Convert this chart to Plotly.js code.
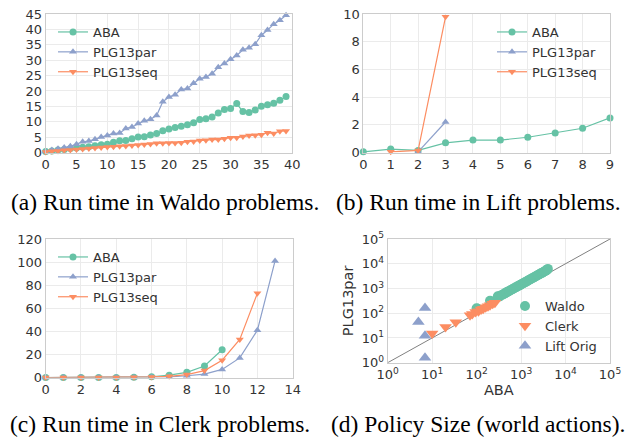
<!DOCTYPE html>
<html>
<head>
<meta charset="utf-8">
<script src="https://cdn.plot.ly/plotly-3.0.1.min.js"></script>
<style>html,body{margin:0;padding:0;background:#fff;}#chart{width:629px;height:438px;}</style>
</head>
<body>
<div id="chart"></div>
<script>
// ---- (a) Waldo run times ----
const waldoX = [0,1,2,3,4,5,6,7,8,9,10,11,12,13,14,15,16,17,18,19,20,21,22,23,24,25,26,27,28,29,30,31,32,33,34,35,36,37,38,39];
const waldoABA = [0.3,0.5,0.8,1.0,1.3,1.5,1.7,1.9,2.2,2.5,2.7,3.3,3.8,3.9,4.5,5.0,5.1,5.7,6.2,7.1,7.6,8.1,8.5,9.0,9.7,10.7,11.0,11.5,12.8,14.0,14.3,15.9,13.3,13.0,13.8,15.0,15.5,16.0,17.0,18.2];
const waldoPar = [0.3,0.8,1.2,1.6,2.0,2.7,3.5,3.7,4.3,5.0,5.5,6.2,6.3,7.8,8.3,9.4,10.3,10.8,12.0,16.5,18.0,18.8,20.5,20.8,22.5,24.0,24.5,25.6,27.7,28.9,30.3,31.5,33.4,34.0,35.2,38.1,39.8,41.7,43.0,44.6];
const waldoSeq = [0.2,0.4,0.5,0.7,0.8,1.0,1.1,1.3,1.5,1.6,1.8,1.9,2.0,2.1,2.3,2.4,2.6,2.8,3.0,3.0,3.1,3.1,3.2,3.5,3.6,3.9,4.0,4.2,4.2,4.5,4.8,4.8,5.2,5.5,5.6,5.8,6.4,6.2,6.9,7.0];

// ---- (b) Lift run times ----
const liftX_ABA = [0,1,2,3,4,5,6,7,8,9];
const liftABA = [0.05,0.25,0.15,0.7,0.9,0.9,1.1,1.4,1.75,2.5];
const liftX_Par = [2,3];
const liftPar = [0.05,2.2];
const liftX_Seq = [1,2,3];
const liftSeq = [0.05,0.15,9.8];

// ---- (c) Clerk run times ----
const clerkX_ABA = [0,1,2,3,4,5,6,7,8,9,10];
const clerkABA = [0,0,0,0,0,0.2,0.6,2,4.5,10,24];
const clerkX_Par = [0,1,2,3,4,5,6,7,8,9,10,11,12,13];
const clerkPar = [0,0,0,0,0,0,0.2,0.5,1.5,3,7,17,41,101];
const clerkX_Seq = [0,1,2,3,4,5,6,7,8,9,10,11,12];
const clerkSeq = [0,0,0,0,0,0.2,0.5,1,2.5,6,15,33,73];

// ---- (d) Policy size ----
const waldoSizeABA = [100,105,200,210,300,320,350,380,420,460,500,540,590,640,700,760,820,890,960,1040,1120,1210,1300,1400,1510,1620,1740,1870,2000,2150,2300,2460,2630,2810,3000,3200,3400,3600,3800,4000];
const waldoSizePar = [160,150,320,300,480,470,520,560,620,680,740,800,870,940,1030,1110,1200,1300,1400,1520,1630,1760,1890,2040,2200,2360,2530,2720,2910,3130,3350,3580,3820,4080,4360,4650,4940,5230,5550,6200];
const clerkSizeABA = [10,20,34,71,80,95,110,126,140,160,180,200,230,258];
const clerkSizePar = [15,28,43,83,92,112,120,140,150,174,190,210,240,263];
const liftSizeABA = [6.9,4.9,6.9,6.9];
const liftSizePar = [163,44,12.4,1.6];
const diagX = [1,100000];
const diagY = [1,100000];

// ---- tick labels ----
const ticksA = [0,5,10,15,20,25,30,35,40,45];
const ticksAx = [0,5,10,15,20,25,30,35,40];
const ticksBy = [0,2,4,6,8,10];
const ticksBx = [0,1,2,3,4,5,6,7,8,9];
const ticksCy = [0,20,40,60,80,100,120];
const ticksCx = [0,2,4,6,8,10,12,14];
const logVals = [1,10,100,1000,10000,100000];
const logText = ['10<sup>0</sup>','10<sup>1</sup>','10<sup>2</sup>','10<sup>3</sup>','10<sup>4</sup>','10<sup>5</sup>'];
const captions = ['(a) Run time in Waldo problems.','(b) Run time in Lift problems.','(c) Run time in Clerk problems.','(d) Policy Size (world actions).'];

const GREEN = '#66c2a5', BLUE = '#8da0cb', ORANGE = '#fc8d62';
const W = 629, H = 438;
const px = v => v / W;
const py = v => 1 - v / H;

function line(x, y, name, color, sym, xa, ya, leg) {
  return {x: x, y: y, name: name, type: 'scatter', mode: 'lines+markers',
    line: {color: color, width: 1.2}, marker: {color: color, symbol: sym, size: 7},
    xaxis: xa, yaxis: ya, legend: leg, cliponaxis: false};
}

const traces = [
  line(waldoX, waldoABA, 'ABA', GREEN, 'circle', 'x', 'y', 'legend'),
  line(waldoX, waldoPar, 'PLG13par', BLUE, 'triangle-up', 'x', 'y', 'legend'),
  line(waldoX, waldoSeq, 'PLG13seq', ORANGE, 'triangle-down', 'x', 'y', 'legend'),
  line(liftX_ABA, liftABA, 'ABA', GREEN, 'circle', 'x2', 'y2', 'legend2'),
  line(liftX_Par, liftPar, 'PLG13par', BLUE, 'triangle-up', 'x2', 'y2', 'legend2'),
  line(liftX_Seq, liftSeq, 'PLG13seq', ORANGE, 'triangle-down', 'x2', 'y2', 'legend2'),
  line(clerkX_ABA, clerkABA, 'ABA', GREEN, 'circle', 'x3', 'y3', 'legend3'),
  line(clerkX_Par, clerkPar, 'PLG13par', BLUE, 'triangle-up', 'x3', 'y3', 'legend3'),
  line(clerkX_Seq, clerkSeq, 'PLG13seq', ORANGE, 'triangle-down', 'x3', 'y3', 'legend3'),
  {x: diagX, y: diagY, type: 'scatter', mode: 'lines', line: {color: '#808080', width: 1},
    xaxis: 'x4', yaxis: 'y4', showlegend: false, hoverinfo: 'skip'},
  {x: waldoSizeABA, y: waldoSizePar, name: 'Waldo', type: 'scatter', mode: 'markers',
    marker: {color: GREEN, symbol: 'circle', size: 10}, xaxis: 'x4', yaxis: 'y4', legend: 'legend4'},
  {x: clerkSizeABA, y: clerkSizePar, name: 'Clerk', type: 'scatter', mode: 'markers',
    marker: {color: ORANGE, symbol: 'triangle-down', size: 11}, xaxis: 'x4', yaxis: 'y4', legend: 'legend4'},
  {x: liftSizeABA, y: liftSizePar, name: 'Lift Orig', type: 'scatter', mode: 'markers',
    marker: {color: BLUE, symbol: 'triangle-up', size: 11}, xaxis: 'x4', yaxis: 'y4', legend: 'legend4'}
];

const tickFont = {family: 'DejaVu Sans', size: 13, color: '#333333'};
function ax(domain, range, tickvals, anchor, extra) {
  return Object.assign({domain: domain, range: range, tickmode: 'array', tickvals: tickvals,
    showgrid: true, gridcolor: '#ebebeb', gridwidth: 1, zeroline: false,
    showline: true, mirror: true, linecolor: '#cccccc', linewidth: 1,
    ticks: '', tickfont: tickFont, anchor: anchor, fixedrange: true}, extra || {});
}

const legFont = {family: 'DejaVu Sans', size: 13, color: '#333333'};
function leg(x, y) {
  return {x: x, y: y, xanchor: 'left', yanchor: 'top', bgcolor: 'rgba(255,255,255,0)',
    borderwidth: 0, font: legFont, tracegroupgap: 0, itemwidth: 30};
}

const capFont = {family: 'Liberation Serif', size: 23.5, color: '#000'};
function cap(text, x, y) {
  return {text: text, x: px(x), y: py(y), xref: 'paper', yref: 'paper', showarrow: false,
    xanchor: 'center', yanchor: 'middle', font: capFont};
}

const titleFont = {family: 'DejaVu Sans', size: 14.5, color: '#333333'};
const layout = {
  width: W, height: H, margin: {l: 0, r: 0, t: 0, b: 0},
  paper_bgcolor: '#ffffff', plot_bgcolor: '#ffffff', showlegend: true,
  xaxis: ax([px(45.7), px(292.2)], [0, 40], ticksAx, 'y'),
  yaxis: ax([py(152.5), py(14)], [0, 45], ticksA, 'x'),
  xaxis2: ax([px(363.3), px(610)], [0, 9], ticksBx, 'y2'),
  yaxis2: ax([py(152.5), py(14)], [0, 10], ticksBy, 'x2'),
  xaxis3: ax([px(45.7), px(292.7)], [0, 14], ticksCx, 'y3'),
  yaxis3: ax([py(377.5), py(239)], [0, 120], ticksCy, 'x3'),
  xaxis4: ax([px(387.7), px(610)], [0, 5], logVals, 'y4', {type: 'log', ticktext: logText,
    title: {text: 'ABA', font: titleFont, standoff: 0}}),
  yaxis4: ax([py(362.7), py(239)], [0, 5], logVals, 'x4', {type: 'log', ticktext: logText,
    title: {text: 'PLG13par', font: titleFont, standoff: 4}}),
  legend: leg(px(53), py(17)),
  legend2: leg(px(492), py(17)),
  legend3: leg(px(53), py(242)),
  legend4: leg(px(505), py(291)),
  annotations: [
    cap(captions[0], 164.5, 202),
    cap(captions[1], 478.5, 202),
    cap(captions[2], 159.5, 424),
    cap(captions[3], 478, 424)
  ]
};

Plotly.newPlot('chart', traces, layout, {staticPlot: true, displayModeBar: false});
</script>
</body>
</html>
